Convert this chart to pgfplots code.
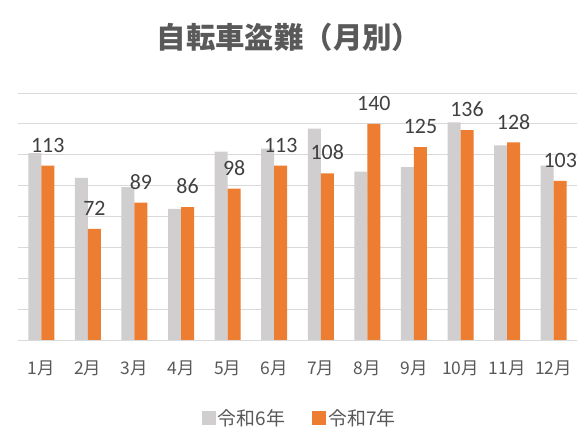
\documentclass[border=0pt]{standalone}
\usepackage{pgfplots}
\pgfplotsset{compat=1.18}
\usepackage{fontspec}
\setmainfont{Carlito}
\newfontfamily\cjk{Noto Sans CJK JP}
\definecolor{gbar}{RGB}{208,206,206}
\definecolor{obar}{RGB}{237,125,49}
\definecolor{txt}{RGB}{89,89,89}
\definecolor{lbl}{RGB}{64,64,64}
\definecolor{gridc}{RGB}{217,217,217}

\begin{document}
\begin{tikzpicture}
\path[use as bounding box] (0,0) rectangle (587bp,448bp);
\node[text=txt, font=\cjk\bfseries\fontsize{29.5}{33}\selectfont] at (289bp,411bp) {自転車盗難（月別）};
\begin{axis}[
    at={(18bp,108bp)}, anchor=south west,
    scale only axis, width=559bp, height=247bp,
    ybar=0pt, bar width=13bp,
    xmin=0.5, xmax=12.5, ymin=0, ymax=160,
    xtick={1,...,12},
    xticklabels={1月,2月,3月,4月,5月,6月,7月,8月,9月,10月,11月,12月},
    ytick={0,20,...,160}, yticklabels={},
    ymajorgrids, grid style={gridc, line width=0.75bp},
    axis x line*=bottom, axis y line*=left,
    x axis line style={gridc, line width=0.75bp, -},
    y axis line style={draw=none},
    major tick length=0pt,
    /pgf/number format/assume math mode=true,
    xticklabel style={font=\cjk\fontsize{17.5}{19}\selectfont, text=txt, yshift=-17bp},
    legend columns=2,
    legend style={at={(0.504,-0.316)}, anchor=center, draw=none,
        font=\cjk\fontsize{19}{21}\selectfont, text=txt,
        /tikz/every even column/.append style={column sep=25bp}},
    legend image code/.code={\fill[#1, draw=none] (0bp,-7bp) rectangle (14bp,7bp);},
]
\addplot[fill=gbar, draw=none] coordinates {
    (1,121)(2,105)(3,99)(4,85)(5,122)(6,124)(7,137)(8,109)(9,112)(10,141)(11,126)(12,113)
};
\addplot[fill=obar, draw=none, nodes near coords,
    every node near coord/.append style={font=\fontsize{22}{24}\selectfont, text=lbl, inner sep=2bp, yshift=11bp}]
    coordinates {
    (1,113)(2,72)(3,89)(4,86)(5,98)(6,113)(7,108)(8,140)(9,125)(10,136)(11,128)(12,103)
};
\legend{令和6年,令和7年}
\end{axis}
\end{tikzpicture}
\end{document}
